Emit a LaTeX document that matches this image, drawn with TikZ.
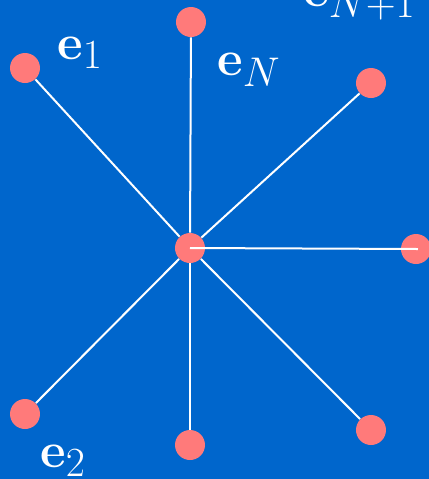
\documentclass[tikz,border=0pt]{standalone}
\usepackage{amsmath,amssymb}
\usepackage{xcolor}
\usetikzlibrary{calc}
\definecolor{bgblue}{HTML}{0066CC}
\definecolor{dotpink}{HTML}{FF7A7A}

\begin{document}
\begin{tikzpicture}[x=0.5pt,y=-0.5pt,
		vertex/.style={circle,fill=dotpink,inner sep=0pt,minimum size=15pt},
		edge/.style={white,line width=1pt},
		lbl/.style={white,font=\Huge,inner sep=0pt,anchor=base west}]
			
			% Background
			\useasboundingbox (0,0) rectangle (429,479);
			\fill[bgblue] (0,0) rectangle (429,479);
			\clip (0,0) rectangle (429,479);
			
			% Vertices
			\node[vertex] (c)  at (190,248) {};
			\node[vertex] (t)  at (191,22)  {};
			\node[vertex] (ul) at (25,68)   {};
			\node[vertex] (ur) at (371,83)  {};
			\node[vertex] (r)  at (416,249) {};
			\node[vertex] (ll) at (25,414)  {};
			\node[vertex] (b)  at (190,445) {};
			\node[vertex] (lr) at (371,430) {};
			
			% Edges from the centre
			\draw[edge] (c) -- (t);
			\draw[edge] (c) -- (ul);
			\draw[edge] (c) -- (ur);
			\draw[edge] (c) -- (ll);
			\draw[edge] (c) -- (b);
			\draw[edge] (c) -- (lr);
			\draw[edge] (c.center) -- ($(r.center)+(2,0)$);
			
			% Labels
			\node[lbl] (l1)  at (57,59)  {$\mathbf{e}_1$};
			\node[lbl] (lN)  at (217,75) {$\mathbf{e}_N$};
			\node[lbl] (l2)  at (40,467) {$\mathbf{e}_2$};
			\node[lbl] (lN1) at (303,6)  {$\mathbf{e}_{N+1}$};
			
\end{tikzpicture}
\end{document}
